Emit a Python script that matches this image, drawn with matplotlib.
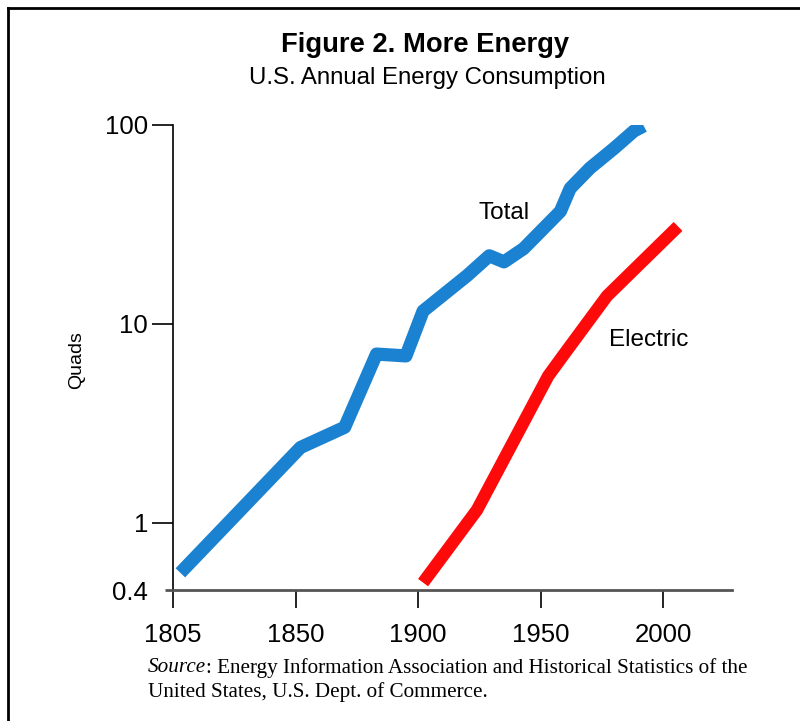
import matplotlib
matplotlib.use("Agg")
import matplotlib.pyplot as plt
from matplotlib.lines import Line2D

# ---- data ----
total_years = [1803, 1852, 1870, 1883, 1895, 1902, 1920, 1929, 1935, 1943, 1958, 1962, 1970, 1980, 1988, 1992]
total_quads = [0.56, 2.39, 3.02, 7.05, 6.9, 11.6, 17.5, 22.0, 20.5, 23.9, 36.8, 48.0, 60.6, 76.5, 93.3, 99.0]

electric_years = [1902, 1924, 1953, 1959, 1977, 2006]
electric_quads = [0.50, 1.16, 5.46, 6.9, 13.8, 30.9]

x_tick_pos = [1800, 1850, 1900, 1950, 2000]
x_tick_labels = ["1805", "1850", "1900", "1950", "2000"]
y_major = [1, 10, 100]
y_major_labels = ["1", "10", "100"]
y_bottom = 0.459
y_bottom_label = "0.4"

W, H = 800, 721
fig = plt.figure(figsize=(W / 100, H / 100), dpi=100)
fig.patch.set_facecolor("white")

def fx(px):
    return px / W

def fy(py):
    return 1 - py / H

ax = fig.add_axes([fx(173), fy(590), fx(732) - fx(173), fy(125) - fy(590)])
ax.set_yscale("log")
ax.set_xlim(1800, 2028)
ax.set_ylim(y_bottom, 100)

ax.plot(total_years, total_quads, color="#1a82d0", lw=9.5,
        solid_capstyle="butt", solid_joinstyle="round")
ax.plot(electric_years, electric_quads, color="#ff0a0a", lw=9.0,
        solid_capstyle="butt", solid_joinstyle="round")

ax.text(1935, 36, "Total", fontsize=17.5, family="Liberation Sans",
        ha="center", va="center")
ax.text(1994, 8.3, "Electric", fontsize=17.5, family="Liberation Sans",
        ha="center", va="center")

for s in ["top", "right"]:
    ax.spines[s].set_visible(False)
ax.spines["left"].set_color("black")
ax.spines["left"].set_linewidth(1.2)
ax.spines["bottom"].set_color("#555555")
ax.spines["bottom"].set_linewidth(2.0)

ax.set_xticks(x_tick_pos, x_tick_labels)
ax.set_yticks(y_major, y_major_labels)
ax.set_yticks([y_bottom], [y_bottom_label], minor=True)

ax.tick_params(axis="x", which="major", direction="out", length=13, width=1.2,
               color="black", pad=11, labelsize=18.5)
ax.tick_params(axis="y", which="major", direction="out", length=15, width=1.2,
               color="black", pad=3, labelsize=18.5)
ax.tick_params(axis="y", which="minor", direction="out", length=6, width=2.0,
               color="#555555", pad=12, labelsize=18.5)
for lab in ax.get_xticklabels() + ax.get_yticklabels() + ax.get_yticklabels(minor=True):
    lab.set_family("Liberation Sans")

fig.text(fx(77), fy(360), "Quads", rotation=90, fontsize=14,
         family="Liberation Sans", ha="center", va="center")

fig.text(fx(425), fy(45), "Figure 2. More Energy", fontsize=19.7, fontweight="bold",
         family="Liberation Sans", ha="center", va="center")
fig.text(fx(427), fy(78), "U.S. Annual Energy Consumption", fontsize=17.3,
         family="Liberation Sans", ha="center", va="center")

t1 = fig.text(fx(148), fy(668), "Source", fontsize=15.2, style="italic",
              family="Liberation Serif", ha="left", va="center")
fig.canvas.draw()
bb = t1.get_window_extent()
fig.text(bb.x1 / W, fy(668),
         ": Energy Information Association and Historical Statistics of the",
         fontsize=15.2, family="Liberation Serif", ha="left", va="center")
fig.text(fx(148), fy(692), "United States, U.S. Dept. of Commerce.", fontsize=15.2,
         family="Liberation Serif", ha="left", va="center")

# outer frame (left and top edges)
fig.add_artist(Line2D([fx(8), fx(8)], [fy(8), 0], color="black", lw=2,
                      transform=fig.transFigure))
fig.add_artist(Line2D([fx(8), 1], [fy(8), fy(8)], color="black", lw=2,
                      transform=fig.transFigure))

fig.savefig("out.png", dpi=100, facecolor="white")
